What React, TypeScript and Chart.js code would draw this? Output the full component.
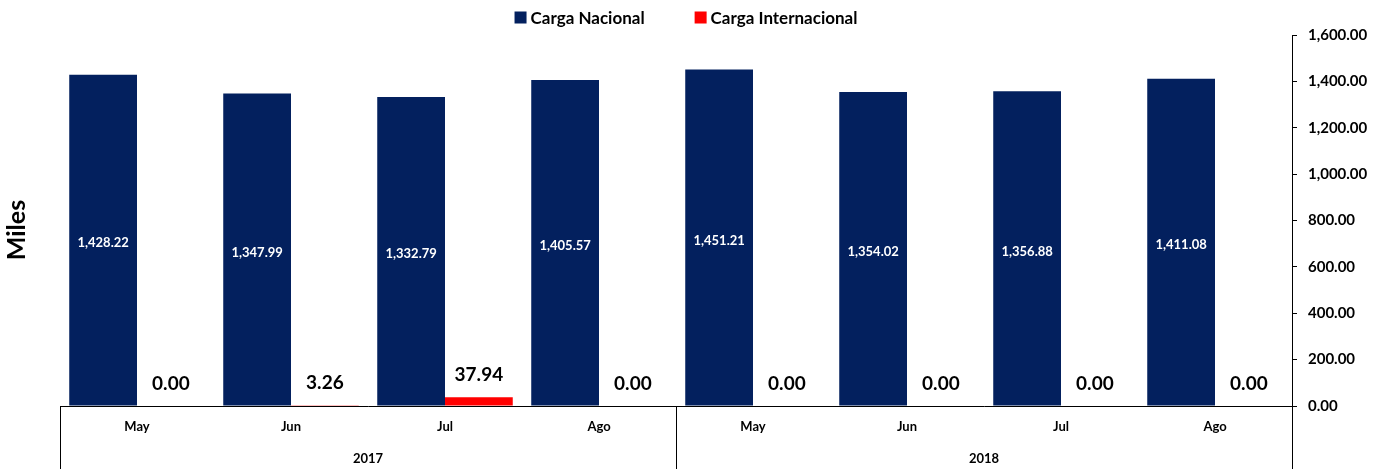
import React, { useEffect, useRef } from "react";
import { Chart, registerables } from "chart.js";

Chart.register(...registerables);

const months = ["May", "Jun", "Jul", "Ago", "May", "Jun", "Jul", "Ago"];
const years = ["2017", "2018"];
const monthsPerYear = [4, 4];
const cargaNacional = [1428.22, 1347.99, 1332.79, 1405.57, 1451.21, 1354.02, 1356.88, 1411.08];
const cargaInternacional = [0.0, 3.26, 37.94, 0.0, 0.0, 0.0, 0.0, 0.0];
const seriesNames = ["Carga Nacional", "Carga Internacional"];
const yMin = 0;
const yMax = 1600;
const yStep = 200;
const axisTitle = "Miles";

const FONT = "Lato, 'Open Sans', sans-serif";
const BLUE = "#03205e";
const RED = "#ff0000";

const fmt = (v: number) =>
  v.toLocaleString("en-US", { minimumFractionDigits: 2, maximumFractionDigits: 2 });

const legendPlugin = {
  id: "customLegend",
  afterDraw(chart: any) {
    const ctx = chart.ctx;
    ctx.save();
    ctx.font = `bold 17px ${FONT}`;
    ctx.textBaseline = "middle";
    const box = 12;
    const gap = 4;
    const spacing = 50;
    const items = chart.data.datasets.map((d: any) => ({
      label: d.label,
      color: d.backgroundColor,
      w: box + gap + ctx.measureText(d.label).width,
    }));
    const total = items.reduce((s: number, it: any) => s + it.w, 0) + spacing * (items.length - 1);
    const cx = (chart.chartArea.left + chart.chartArea.right) / 2 + 10;
    let x = cx - total / 2;
    const y = 17.5;
    items.forEach((it: any) => {
      ctx.fillStyle = it.color;
      ctx.fillRect(x, y - box / 2, box, box);
      ctx.fillStyle = "#000";
      ctx.textAlign = "left";
      ctx.fillText(it.label, x + box + gap, y + 1);
      x += it.w + spacing;
    });
    ctx.restore();
  },
};

const axisTitlePlugin = {
  id: "leftTitle",
  afterDraw(chart: any) {
    const ctx = chart.ctx;
    ctx.save();
    ctx.translate(17, 230);
    ctx.rotate(-Math.PI / 2);
    ctx.font = `bold 25px ${FONT}`;
    ctx.fillStyle = "#000";
    ctx.textAlign = "center";
    ctx.textBaseline = "middle";
    ctx.fillText(axisTitle, 0, 0);
    ctx.restore();
  },
};

const valueLabelPlugin = {
  id: "valueLabels",
  afterDatasetsDraw(chart: any) {
    const ctx = chart.ctx;
    ctx.save();
    ctx.textAlign = "center";
    chart.data.datasets.forEach((ds: any, di: number) => {
      const meta = chart.getDatasetMeta(di);
      meta.data.forEach((el: any, i: number) => {
        const v = ds.data[i];
        const txt = fmt(v);
        if (di === 0) {
          ctx.font = `bold 13px ${FONT}`;
          ctx.fillStyle = "#ffffff";
          ctx.textBaseline = "middle";
          ctx.fillText(txt, el.x, (el.y + el.base) / 2 + 3);
        } else {
          ctx.font = `bold 19px ${FONT}`;
          ctx.fillStyle = "#000000";
          ctx.textBaseline = "bottom";
          ctx.fillText(txt, el.x, el.y - 13);
        }
      });
    });
    ctx.restore();
  },
};

const yearAxisPlugin = {
  id: "yearAxis",
  afterDraw(chart: any) {
    const ctx = chart.ctx;
    const xs = chart.scales.x;
    const area = chart.chartArea;
    const bottom = chart.height;
    const catW = (area.right - area.left) / months.length;
    ctx.save();
    ctx.strokeStyle = "#000";
    ctx.lineWidth = 1;
    let idx = 0;
    const bounds: number[] = [area.left];
    monthsPerYear.forEach((n) => {
      idx += n;
      bounds.push(xs.getPixelForValue(idx - 1) + catW / 2);
    });
    bounds.forEach((bx) => {
      const px = Math.round(bx) + 0.5;
      ctx.beginPath();
      ctx.moveTo(px, area.bottom);
      ctx.lineTo(px, bottom);
      ctx.stroke();
    });
    ctx.font = `bold 13px ${FONT}`;
    ctx.fillStyle = "#000";
    ctx.textAlign = "center";
    ctx.textBaseline = "middle";
    years.forEach((yr, i) => {
      const cx = (bounds[i] + bounds[i + 1]) / 2;
      ctx.fillText(yr, cx, 459);
    });
    ctx.restore();
  },
};

export default function App() {
  const ref = useRef<HTMLCanvasElement | null>(null);
  useEffect(() => {
    if (!ref.current) return;
    const chart = new Chart(ref.current, {
      type: "bar",
      data: {
        labels: months,
        datasets: [
          {
            label: seriesNames[0],
            data: cargaNacional,
            backgroundColor: BLUE,
            borderWidth: 0,
          },
          {
            label: seriesNames[1],
            data: cargaInternacional,
            backgroundColor: RED,
            borderWidth: 0,
          },
        ],
      },
      options: {
        animation: false,
        responsive: true,
        maintainAspectRatio: false,
        layout: { padding: { top: 35, left: 60, right: 0, bottom: 0 } },
        datasets: { bar: { categoryPercentage: 0.88, barPercentage: 1.0 } },
        plugins: {
          legend: { display: false },
          tooltip: { enabled: false },
        },
        scales: {
          x: {
            type: "category",
            grid: { display: false, drawTicks: false },
            border: { display: true, color: "#000", width: 1 },
            ticks: {
              color: "#000",
              font: { family: FONT, size: 13, weight: "bold" },
              padding: 13,
              maxRotation: 0,
              autoSkip: false,
            },
            afterFit: (s: any) => {
              s.height = 63;
            },
          },
          y: {
            type: "linear",
            position: "right",
            min: yMin,
            max: yMax,
            grid: {
              display: true,
              drawOnChartArea: false,
              drawTicks: true,
              tickLength: 5,
              color: "#000",
            },
            border: { display: true, color: "#000", width: 1 },
            ticks: {
              stepSize: yStep,
              color: "#000",
              padding: 11,
              font: { family: FONT, size: 15, weight: "bold" },
              callback: (v: any) => fmt(Number(v)),
            },
            afterFit: (s: any) => {
              s.width = 102;
            },
          },
        },
      },
      plugins: [valueLabelPlugin, yearAxisPlugin, legendPlugin, axisTitlePlugin],
    });
    return () => chart.destroy();
  }, []);
  return (
    <div style={{ position: "fixed", left: 0, top: 0, width: 1394, height: 469, background: "#fff" }}>
      <canvas ref={ref} />
    </div>
  );
}
